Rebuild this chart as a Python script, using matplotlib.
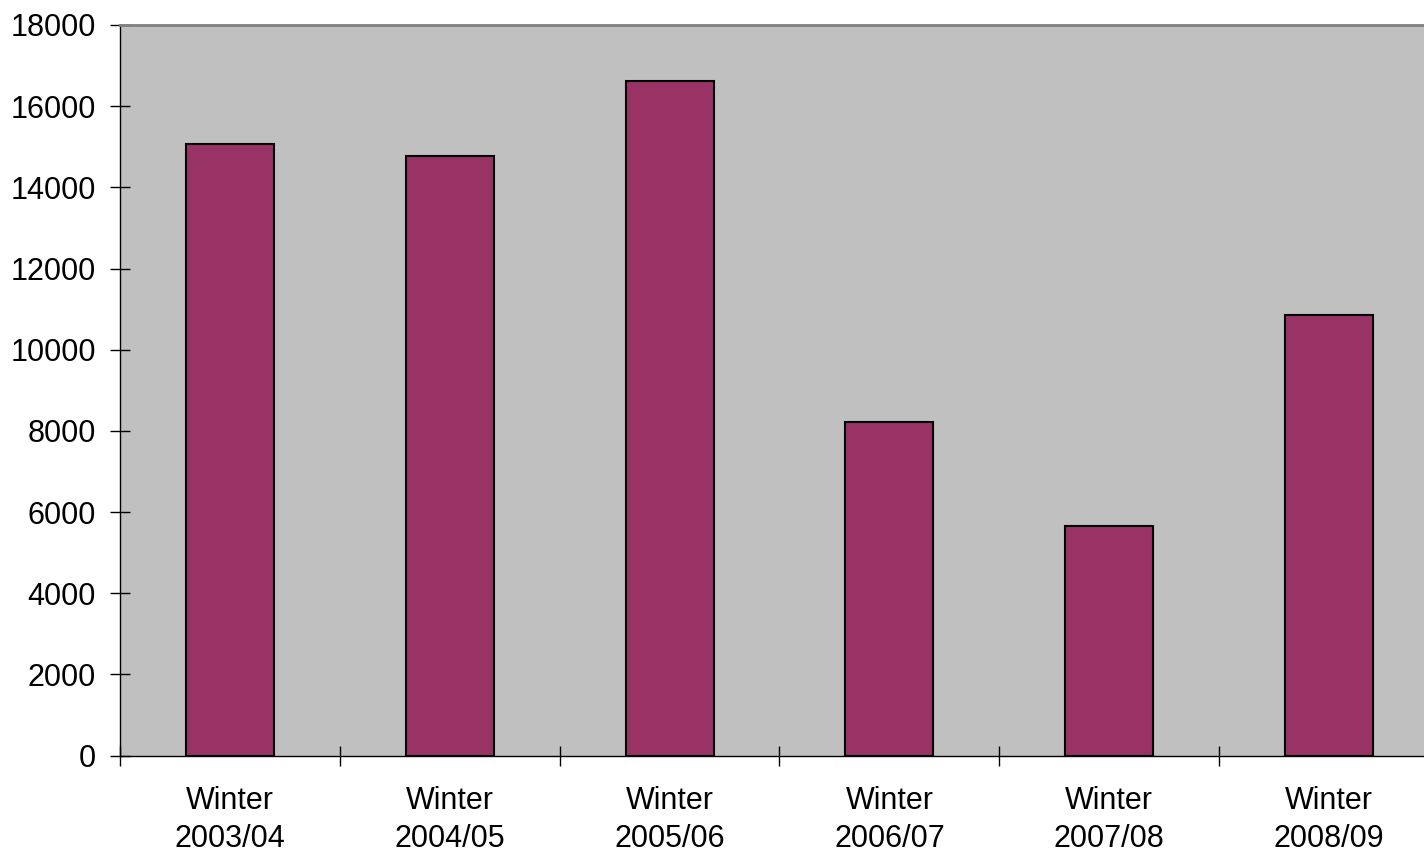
import matplotlib
matplotlib.use('Agg')
import matplotlib.pyplot as plt
import numpy as np

# dati
stagioni = ['Winter\n2003/04', 'Winter\n2004/05', 'Winter\n2005/06',
            'Winter\n2006/07', 'Winter\n2007/08', 'Winter\n2008/09']
valori = [15060, 14780, 16620, 8220, 5650, 10860]
tick_y = [0, 2000, 4000, 6000, 8000, 10000, 12000, 14000, 16000, 18000]

plt.rcParams['font.family'] = ['Liberation Sans', 'DejaVu Sans']

W, H = 1424, 858
fig = plt.figure(figsize=(W / 100, H / 100), dpi=100)
# l'area del grafico esce a destra dalla figura, come nell'originale
x0, x1, y0, y1 = 120, 1439, 25, 755.5
ax = fig.add_axes([x0 / W, 1 - y1 / H, (x1 - x0) / W, (y1 - y0) / H])
ax.set_facecolor('#C0C0C0')

x = np.arange(len(valori))
ax.bar(x, valori, width=0.4, color='#993366', edgecolor='black', linewidth=1.5, zorder=2)

ax.set_xlim(-0.5, len(valori) - 0.5)
ax.set_ylim(0, 18000)
ax.set_yticks(tick_y)
ax.set_yticklabels([str(v) for v in tick_y], fontsize=22)

# tacche sui confini delle categorie, etichette al centro
ax.set_xticks(np.arange(len(valori) + 1) - 0.5)
ax.set_xticklabels([])
ax.set_xticks(x, minor=True)
ax.set_xticklabels(stagioni, minor=True, fontsize=22, linespacing=1.35)
ax.tick_params(axis='x', which='minor', length=0, pad=22)
ax.tick_params(axis='x', which='major', direction='inout', length=14.4, width=1)
ax.tick_params(axis='y', direction='inout', length=14.4, width=1, pad=10)

for s in ['left', 'bottom']:
    ax.spines[s].set_color('black')
    ax.spines[s].set_linewidth(1)
ax.spines['top'].set_color('#808080')
ax.spines['top'].set_linewidth(2)
ax.spines['right'].set_visible(False)

fig.savefig('out.png', dpi=100)
